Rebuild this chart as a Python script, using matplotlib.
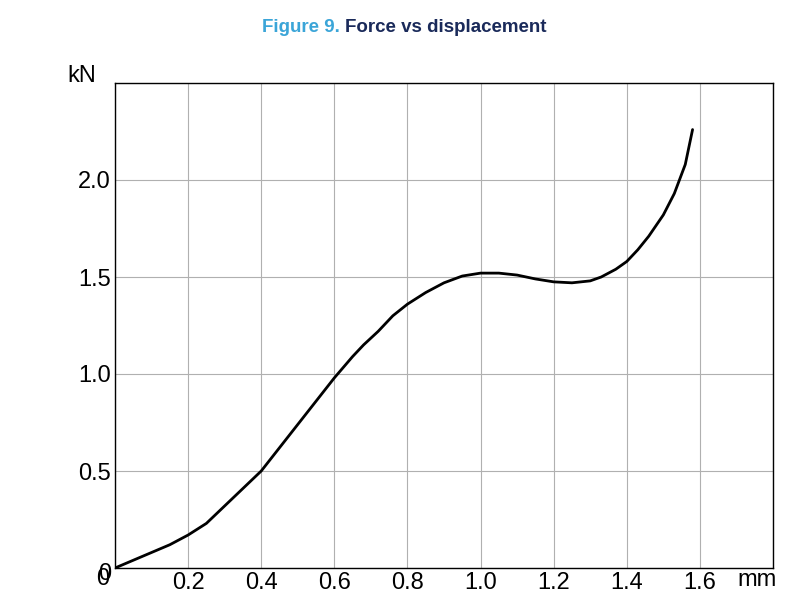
import numpy as np
import matplotlib.pyplot as plt
from matplotlib.transforms import ScaledTranslation

plt.rcParams['font.family'] = ['Liberation Sans', 'DejaVu Sans']

# readings
disp = [0, 0.05, 0.1, 0.15, 0.2, 0.25, 0.3, 0.35, 0.4, 0.45, 0.5, 0.55, 0.6, 0.65,
        0.68, 0.72, 0.76, 0.8, 0.85, 0.9, 0.95, 1.0, 1.05, 1.1, 1.15, 1.2, 1.25,
        1.3, 1.33, 1.37, 1.4, 1.43, 1.46, 1.5, 1.53, 1.56, 1.58]
force = [0, 0.04, 0.08, 0.12, 0.17, 0.23, 0.32, 0.41, 0.5, 0.62, 0.74, 0.86, 0.98, 1.09,
         1.15, 1.22, 1.30, 1.36, 1.42, 1.47, 1.505, 1.52, 1.52, 1.51, 1.49, 1.475, 1.47,
         1.48, 1.50, 1.54, 1.58, 1.64, 1.71, 1.82, 1.93, 2.08, 2.26]
xlabels = ['0', '0.2', '0.4', '0.6', '0.8', '1.0', '1.2', '1.4', '1.6']
ylabels = ['0', '0.5', '1.0', '1.5', '2.0']

fig = plt.figure(figsize=(8.06, 5.99), dpi=100)
ax = fig.add_axes([115/806, 1 - 568/599, 658/806, 485/599])

ax.plot(disp, force, color='black', lw=2, solid_capstyle='round')
ax.set_xlim(0, 1.8)
ax.set_ylim(0, 2.5)
ax.set_xticks(np.arange(0, 1.81, 0.2))
ax.set_yticks(np.arange(0, 2.51, 0.5))
ax.set_xticklabels(xlabels + [''], fontsize=17)
ax.set_yticklabels(ylabels + [''], fontsize=17)
ax.tick_params(length=0, pad=3)
ax.grid(True, color='#b0b0b0', lw=0.8)
for s in ax.spines.values():
    s.set_linewidth(1.0)

# shift the zero labels off the corner
xl0 = ax.get_xticklabels()[0]
xl0.set_transform(xl0.get_transform() + ScaledTranslation(-0.12, 0.04, fig.dpi_scale_trans))
yl0 = ax.get_yticklabels()[0]
yl0.set_transform(yl0.get_transform() + ScaledTranslation(0, -0.04, fig.dpi_scale_trans))

fig.text(757/806, 1 - 580/599, 'mm', fontsize=17, ha='center', va='center')
fig.text(82/806, 1 - 76/599, 'kN', fontsize=17, ha='center', va='center')

t1 = fig.text(262/806, 1 - 28/599, 'Figure 9. ', fontsize=13.5, fontweight='bold',
              color='#3ba5d8', ha='left', va='center')
fig.canvas.draw()
bb = t1.get_window_extent()
fig.text(bb.x1 / 806, 1 - 28/599, 'Force vs displacement', fontsize=13.5,
         fontweight='bold', color='#1a2a5a', ha='left', va='center')

fig.savefig('out.png', dpi=100)
